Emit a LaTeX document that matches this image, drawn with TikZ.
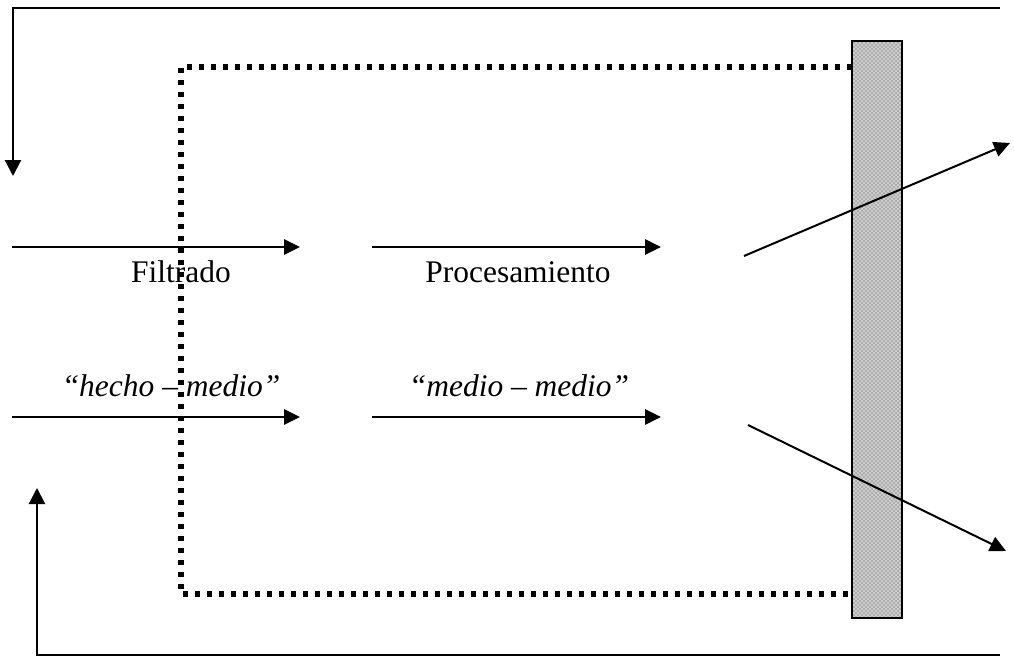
\documentclass[tikz,border=0pt]{standalone}
\usepackage{fontspec}
\setmainfont{Liberation Serif}
\usetikzlibrary{arrows.meta,patterns}
\begin{document}
\begin{tikzpicture}[x=0.75pt,y=-0.75pt,
  flow/.style={line width=1.5pt,-{Triangle[length=12pt,width=11.5pt]}},
  loopline/.style={line width=1.6pt},
  boundary/.style={line width=4pt,dash pattern=on 4pt off 5pt},
  lbl/.style={font=\fontsize{23.6}{28}\selectfont,inner sep=0pt,anchor=base},
  ilbl/.style={lbl,font=\fontsize{23.6}{28}\selectfont\itshape}]
\useasboundingbox (0,0) rectangle (1014,657);

% membrane bar
\fill[gray!40] (852,41) rectangle (902,618);
\fill[pattern=crosshatch dots,pattern color=black!70] (852,41) rectangle (902,618);
\draw[line width=1.5pt] (852,41) rectangle (902,618);

% dotted system boundary
\coordinate (bt) at (852,67);
\coordinate (btl) at (181,67);
\coordinate (bbl) at (181,594);
\coordinate (bb) at (852,594);
\draw[boundary] (bt) -- (btl) -- (bbl) -- (bb);

% feedback loops
\coordinate (ts) at (1000,8);
\coordinate (tc) at (13,8);
\coordinate (te) at (13,176);
\draw[loopline,-{Triangle[length=12pt,width=12pt]}] (ts) -- (tc) -- (te);
\coordinate (bs) at (1000,655);
\coordinate (bc) at (37,655);
\coordinate (be) at (37,488);
\draw[loopline,-{Triangle[length=12pt,width=12pt]}] (bs) -- (bc) -- (be);

% flow arrows
\coordinate (a1s) at (12,247);  \coordinate (a1e) at (300,247);
\coordinate (a2s) at (372,247); \coordinate (a2e) at (661,247);
\coordinate (a3s) at (12,417);  \coordinate (a3e) at (300,417);
\coordinate (a4s) at (372,417); \coordinate (a4e) at (661,417);
\draw[flow] (a1s) -- (a1e);
\draw[flow] (a2s) -- (a2e);
\draw[flow] (a3s) -- (a3e);
\draw[flow] (a4s) -- (a4e);

% outgoing arrows through the bar
\coordinate (o1s) at (744,256); \coordinate (o1e) at (1010,143);
\coordinate (o2s) at (748,425); \coordinate (o2e) at (1006,551);
\draw[flow] (o1s) -- (o1e);
\draw[flow] (o2s) -- (o2e);

% labels
\node[lbl] (filt) at (181,282) {Filtrado};
\node[lbl] (proc) at (518,282) {Procesamiento};
\node[ilbl] (hm) at (171,396) {“hecho – medio”};
\node[ilbl] (mm) at (519,396) {“medio – medio”};
\end{tikzpicture}
\end{document}
